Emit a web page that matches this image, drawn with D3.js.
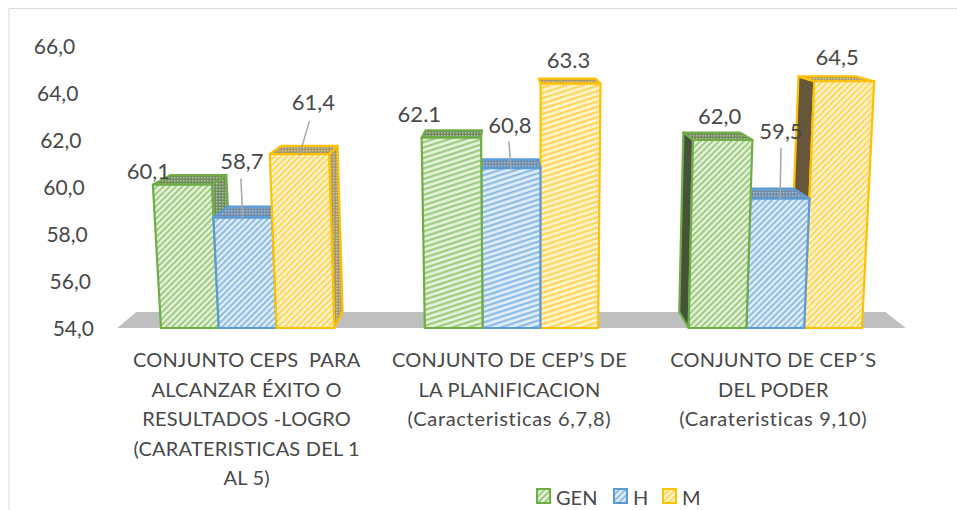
<!DOCTYPE html>
<html><head><meta charset="utf-8">
<style>html,body{margin:0;padding:0;background:#fff}svg{display:block}text{font-family:Lato,"Open Sans",sans-serif;fill:#484848}</style>
<script src="https://cdn.jsdelivr.net/npm/d3@7"></script></head><body>
<svg id="c" width="957" height="510"></svg>
<script>
const categories = ["g1","g2","g3"];
const categoryLines = [
 ["CONJUNTO CEPS  PARA","ALCANZAR ÉXITO O","RESULTADOS -LOGRO","(CARATERISTICAS DEL 1","AL 5)"],
 ["CONJUNTO DE CEP’S DE","LA PLANIFICACION","(Caracteristicas 6,7,8)"],
 ["CONJUNTO DE CEP´S","DEL PODER","(Carateristicas 9,10)"]];
const seriesNames = ["GEN","H","M"];
const GEN = [60.1,62.1,62.0];
const H = [58.7,60.8,59.5];
const M = [61.4,64.4,64.5];
const labelsGEN = ["60,1","62.1","62,0"];
const labelsH = ["58,7","60,8","59,5"];
const labelsM = ["61,4","63.3","64,5"];
const yTicks = [54,56,58,60,62,64,66];
const seriesValues=[GEN,H,M], seriesLabels=[labelsGEN,labelsH,labelsM];

const offsetsGEN=[[-34,-14],[-32,-24],[-3,-25]];
const offsetsH=[[-1,-57],[-1,-44],[1,-68]];
const offsetsM=[[14,-53],[-2,-24],[-7,-25]];
const labelOffsets=[offsetsGEN,offsetsH,offsetsM];
const leaders={ "1-0":[18,-1], "2-0":[20,-4], "1-1":[17,-1], "1-2":[17,0] };

const colors=["#70ad47","#5b9bd5","#ffc000"], pale=["#e6f3dc","#e0eefa","#fff4cf"];
const stripe=["#9ecb80","#8fbce4","#ffd65c"];
const topFill=["#6f8c5c","#6f8dab","#a8996a"], topDot=["#b4c2a8","#a9bccd","#cfc49a"];
const sideDark=["#46533a","#3e5468","#66563a"];
const svg=d3.select("#c");
const defs=svg.append("defs");
const angles=[-45,-18,-45], periods=[4.4,5,4.4];
categories.forEach((_,g)=>colors.forEach((c,i)=>{
  const w=periods[g];
  const p=defs.append("pattern").attr("id",`f${g}${i}`).attr("width",w).attr("height",w)
    .attr("patternUnits","userSpaceOnUse").attr("patternTransform",`rotate(${angles[g]+90})`);
  p.append("rect").attr("width",w).attr("height",w).attr("fill",pale[i]);
  p.append("rect").attr("width",w*0.45).attr("height",w).attr("fill",stripe[i]);
}));
colors.forEach((c,i)=>{
  const p=defs.append("pattern").attr("id",`t${i}`).attr("width",3).attr("height",3).attr("patternUnits","userSpaceOnUse");
  p.append("rect").attr("width",3).attr("height",3).attr("fill",topFill[i]);
  p.append("rect").attr("width",1.5).attr("height",1.5).attr("fill",topDot[i]);
});

const floorY=328, xc=536, xcDepth=500, persp=0.000151, ydepth=0.045, xdepth=0.05, yv=-27;
const y=d3.scaleLinear().domain([54,66]).range([floorY,46]);
const x0=d3.scaleBand().domain(categories).range([115.75,907.25]).paddingInner(0.343).paddingOuter(0.1715);
const x1=d3.scaleBand().domain(seriesNames).range([0,x0.bandwidth()]);
const px=(bx,py)=>bx+(bx-xc)*(floorY-py)*persp;
const back=([a,b])=>[a+(xcDepth-a)*xdepth,b-(b-yv)*ydepth];
const line=pts=>"M"+pts.map(p=>p.join(",")).join("L")+"Z";

// frame: top and left edges only
svg.append("path").attr("d","M9,512V8.5H957").attr("fill","none").attr("stroke","#d9d9d9");
// floor
const fl=[x0.range()[0]+1.5,x0.range()[1]-1.5];
svg.append("path").attr("fill","#bfbfbf").attr("d",line([[fl[0],floorY],back([fl[0],floorY]),back([fl[1],floorY]),[fl[1],floorY]]));

// y axis
const axisX=94;
const ax=svg.append("g").call(d3.axisLeft(y).tickValues(yTicks).tickSize(0).tickFormat(d=>d.toFixed(1).replace(".",",")));
ax.select(".domain").remove();
ax.selectAll("text").attr("font-size",21).attr("dy",".36em")
  .attr("x",d=>px(axisX,y(d))).attr("text-anchor","end").style("font-family","Lato").style("fill","#484848");

const orderFor=g=>g===0?[0,1,2]:[2,1,0];
categories.forEach((cat,g)=>{
  const G=svg.append("g");
  orderFor(g).forEach(i=>{
    const v=seriesValues[i][g], L=x0(cat)+x1(seriesNames[i]), R=L+x1.bandwidth(), T=y(v);
    const bl=[L,floorY],br=[R,floorY],tl=[px(L,T),T],tr=[px(R,T),T];
    const btl=back(tl),btr=back(tr),bbl=back(bl),bbr=back(br);
    const ap=(d,fill)=>G.append("path").attr("d",d).attr("fill",fill).attr("stroke",colors[i]).attr("stroke-width",2.2).attr("stroke-linejoin","round");
    if(g===0 && i!==1) ap(line([tr,btr,bbr,br]),`url(#t${i})`);
    if(g===2 && i!==1) ap(line([tl,btl,bbl,bl]),sideDark[i]);
    ap(line([tl,btl,btr,tr]),`url(#t${i})`);
    ap(line([bl,tl,tr,br]),`url(#f${g}${i})`);
  });
});

// leaders and data labels
categories.forEach((cat,g)=>seriesNames.forEach((s,i)=>{
  const L=x0(cat)+x1(s),R=L+x1.bandwidth(),T=y(seriesValues[i][g]);
  const cx=(px(L,T)+px(R,T))/2, o=labelOffsets[i][g];
  const lead=leaders[`${i}-${g}`];
  if(lead) svg.append("line").attr("x1",cx+o[0]+lead[1]).attr("y1",T+o[1]+lead[0]).attr("x2",cx).attr("y2",T+1).attr("stroke","#a6a6a6").attr("stroke-width",1.5);
  svg.append("text").attr("x",cx+o[0]).attr("y",T+o[1]).attr("text-anchor","middle").attr("dominant-baseline","central").attr("font-size",22).text(seriesLabels[i][g]);
}));

// category labels
const categoryShift=[1,0,0];
categoryLines.forEach((ls,g)=>{
  const c=x0(categories[g])+x0.bandwidth()/2-2+categoryShift[g];
  ls.forEach((t,k)=>svg.append("text").style("white-space","pre").attr("x",c).attr("y",359+k*29.5)
    .style("letter-spacing",/[a-z]/.test(t)?"0.7px":"0.2px")
    .attr("text-anchor","middle").attr("dominant-baseline","central").attr("font-size",20).text(t));
});

// legend
const legendSwatch=[536,613,662];
seriesNames.forEach((s,i)=>{
  svg.append("rect").attr("x",legendSwatch[i]+1).attr("y",489).attr("width",13).attr("height",14).attr("fill",`url(#f0${i})`).attr("stroke",colors[i]).attr("stroke-width",2);
  svg.append("text").attr("x",legendSwatch[i]+20).attr("y",497).attr("dominant-baseline","central").attr("font-size",20).text(s);
});
</script></body></html>
